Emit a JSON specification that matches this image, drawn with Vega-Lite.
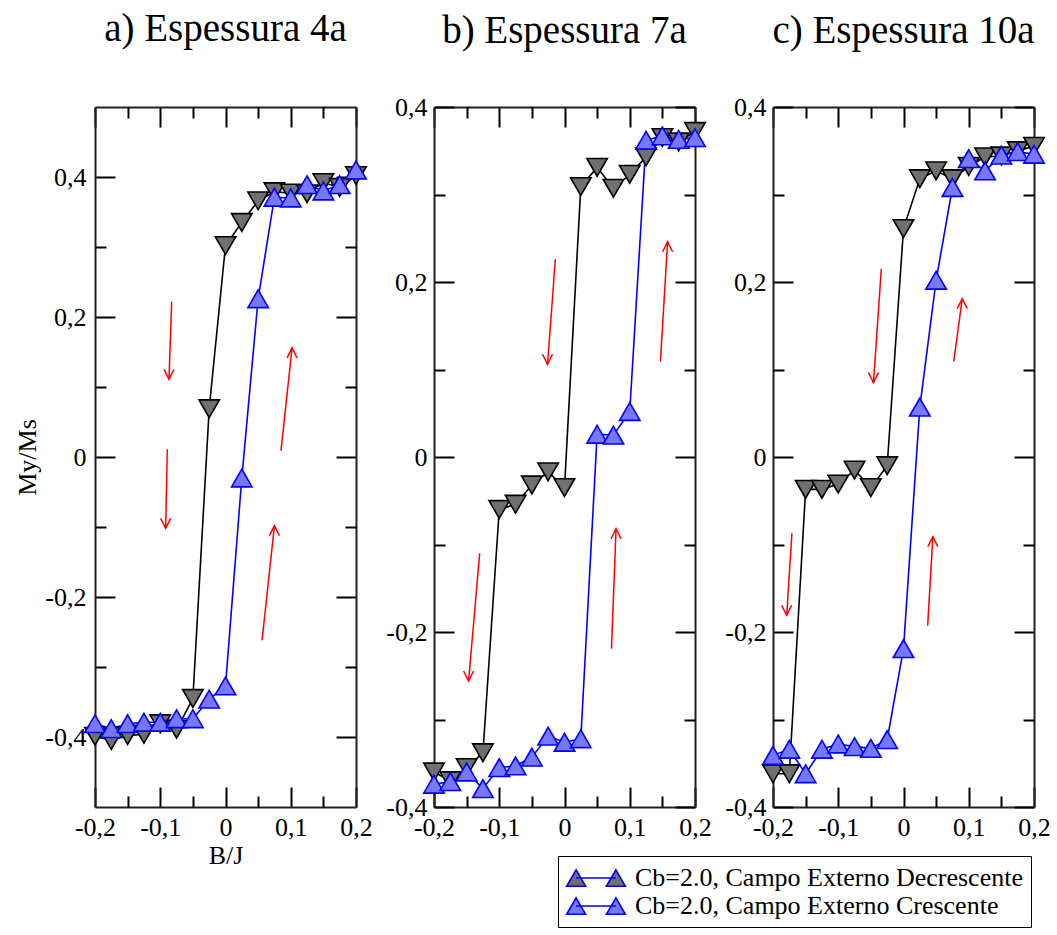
{
  "$schema": "https://vega.github.io/schema/vega-lite/v6.json",
  "padding": {"left": 14, "top": 10, "right": 5, "bottom": 5},
  "background": "white",
  "spacing": 78,
  "bounds": "flush",
  "resolve": {"scale": {"fill": "independent"}, "legend": {"fill": "independent"}},
  "config": {
    "font": "Liberation Serif",
    "view": {"stroke": null},
    "axis": {"labelFont": "Liberation Serif", "labelFontSize": 26, "titleFont": "Liberation Serif", "titleFontSize": 26, "titleFontWeight": "normal", "labelColor": "#000", "titleColor": "#000", "tickColor": "#000", "tickWidth": 2, "domainColor": "#222", "domainWidth": 2, "grid": false, "labelFlush": false, "labelOverlap": false, "labelBound": false},
    "title": {"font": "Liberation Serif", "fontSize": 39, "fontWeight": "normal", "color": "#000", "anchor": "middle", "offset": 57},
    "legend": {"labelFont": "Liberation Serif", "labelFontSize": 26, "labelColor": "#000", "labelLimit": 600}
  },
  "datasets": {
    "pts": [
      {"panel": "a", "serie": "Decrescente", "B": -0.2, "M": -0.399},
      {"panel": "a", "serie": "Decrescente", "B": -0.175, "M": -0.405},
      {"panel": "a", "serie": "Decrescente", "B": -0.15, "M": -0.398},
      {"panel": "a", "serie": "Decrescente", "B": -0.125, "M": -0.396},
      {"panel": "a", "serie": "Decrescente", "B": -0.1, "M": -0.381},
      {"panel": "a", "serie": "Decrescente", "B": -0.075, "M": -0.389},
      {"panel": "a", "serie": "Decrescente", "B": -0.05, "M": -0.345},
      {"panel": "a", "serie": "Decrescente", "B": -0.025, "M": 0.069},
      {"panel": "a", "serie": "Decrescente", "B": 0, "M": 0.302},
      {"panel": "a", "serie": "Decrescente", "B": 0.025, "M": 0.335},
      {"panel": "a", "serie": "Decrescente", "B": 0.05, "M": 0.366},
      {"panel": "a", "serie": "Decrescente", "B": 0.075, "M": 0.379},
      {"panel": "a", "serie": "Decrescente", "B": 0.1, "M": 0.377},
      {"panel": "a", "serie": "Decrescente", "B": 0.125, "M": 0.376},
      {"panel": "a", "serie": "Decrescente", "B": 0.15, "M": 0.392},
      {"panel": "a", "serie": "Decrescente", "B": 0.175, "M": 0.385},
      {"panel": "a", "serie": "Decrescente", "B": 0.2, "M": 0.402},
      {"panel": "a", "serie": "Crescente", "B": -0.2, "M": -0.381},
      {"panel": "a", "serie": "Crescente", "B": -0.175, "M": -0.388},
      {"panel": "a", "serie": "Crescente", "B": -0.15, "M": -0.381},
      {"panel": "a", "serie": "Crescente", "B": -0.125, "M": -0.379},
      {"panel": "a", "serie": "Crescente", "B": -0.1, "M": -0.379},
      {"panel": "a", "serie": "Crescente", "B": -0.075, "M": -0.374},
      {"panel": "a", "serie": "Crescente", "B": -0.05, "M": -0.374},
      {"panel": "a", "serie": "Crescente", "B": -0.025, "M": -0.346},
      {"panel": "a", "serie": "Crescente", "B": 0, "M": -0.327},
      {"panel": "a", "serie": "Crescente", "B": 0.025, "M": -0.03},
      {"panel": "a", "serie": "Crescente", "B": 0.05, "M": 0.226},
      {"panel": "a", "serie": "Crescente", "B": 0.075, "M": 0.371},
      {"panel": "a", "serie": "Crescente", "B": 0.1, "M": 0.37},
      {"panel": "a", "serie": "Crescente", "B": 0.125, "M": 0.389},
      {"panel": "a", "serie": "Crescente", "B": 0.15, "M": 0.38},
      {"panel": "a", "serie": "Crescente", "B": 0.175, "M": 0.389},
      {"panel": "a", "serie": "Crescente", "B": 0.2, "M": 0.41},
      {"panel": "b", "serie": "Decrescente", "B": -0.2, "M": -0.36},
      {"panel": "b", "serie": "Decrescente", "B": -0.175, "M": -0.37},
      {"panel": "b", "serie": "Decrescente", "B": -0.15, "M": -0.355},
      {"panel": "b", "serie": "Decrescente", "B": -0.125, "M": -0.338},
      {"panel": "b", "serie": "Decrescente", "B": -0.1, "M": -0.06},
      {"panel": "b", "serie": "Decrescente", "B": -0.075, "M": -0.054},
      {"panel": "b", "serie": "Decrescente", "B": -0.05, "M": -0.032},
      {"panel": "b", "serie": "Decrescente", "B": -0.025, "M": -0.017},
      {"panel": "b", "serie": "Decrescente", "B": 0, "M": -0.035},
      {"panel": "b", "serie": "Decrescente", "B": 0.025, "M": 0.309},
      {"panel": "b", "serie": "Decrescente", "B": 0.05, "M": 0.331},
      {"panel": "b", "serie": "Decrescente", "B": 0.075, "M": 0.307},
      {"panel": "b", "serie": "Decrescente", "B": 0.1, "M": 0.323},
      {"panel": "b", "serie": "Decrescente", "B": 0.125, "M": 0.343},
      {"panel": "b", "serie": "Decrescente", "B": 0.15, "M": 0.365},
      {"panel": "b", "serie": "Decrescente", "B": 0.175, "M": 0.36},
      {"panel": "b", "serie": "Decrescente", "B": 0.2, "M": 0.372},
      {"panel": "b", "serie": "Crescente", "B": -0.2, "M": -0.374},
      {"panel": "b", "serie": "Crescente", "B": -0.175, "M": -0.371},
      {"panel": "b", "serie": "Crescente", "B": -0.15, "M": -0.36},
      {"panel": "b", "serie": "Crescente", "B": -0.125, "M": -0.379},
      {"panel": "b", "serie": "Crescente", "B": -0.1, "M": -0.355},
      {"panel": "b", "serie": "Crescente", "B": -0.075, "M": -0.353},
      {"panel": "b", "serie": "Crescente", "B": -0.05, "M": -0.343},
      {"panel": "b", "serie": "Crescente", "B": -0.025, "M": -0.319},
      {"panel": "b", "serie": "Crescente", "B": 0, "M": -0.326},
      {"panel": "b", "serie": "Crescente", "B": 0.025, "M": -0.322},
      {"panel": "b", "serie": "Crescente", "B": 0.05, "M": 0.026},
      {"panel": "b", "serie": "Crescente", "B": 0.075, "M": 0.025},
      {"panel": "b", "serie": "Crescente", "B": 0.1, "M": 0.052},
      {"panel": "b", "serie": "Crescente", "B": 0.125, "M": 0.362},
      {"panel": "b", "serie": "Crescente", "B": 0.15, "M": 0.367},
      {"panel": "b", "serie": "Crescente", "B": 0.175, "M": 0.363},
      {"panel": "b", "serie": "Crescente", "B": 0.2, "M": 0.365},
      {"panel": "c", "serie": "Decrescente", "B": -0.2, "M": -0.362},
      {"panel": "c", "serie": "Decrescente", "B": -0.175, "M": -0.362},
      {"panel": "c", "serie": "Decrescente", "B": -0.15, "M": -0.037},
      {"panel": "c", "serie": "Decrescente", "B": -0.125, "M": -0.037},
      {"panel": "c", "serie": "Decrescente", "B": -0.1, "M": -0.031},
      {"panel": "c", "serie": "Decrescente", "B": -0.075, "M": -0.015},
      {"panel": "c", "serie": "Decrescente", "B": -0.05, "M": -0.035},
      {"panel": "c", "serie": "Decrescente", "B": -0.025, "M": -0.01},
      {"panel": "c", "serie": "Decrescente", "B": 0, "M": 0.261},
      {"panel": "c", "serie": "Decrescente", "B": 0.025, "M": 0.318},
      {"panel": "c", "serie": "Decrescente", "B": 0.05, "M": 0.327},
      {"panel": "c", "serie": "Decrescente", "B": 0.075, "M": 0.318},
      {"panel": "c", "serie": "Decrescente", "B": 0.1, "M": 0.332},
      {"panel": "c", "serie": "Decrescente", "B": 0.125, "M": 0.343},
      {"panel": "c", "serie": "Decrescente", "B": 0.15, "M": 0.344},
      {"panel": "c", "serie": "Decrescente", "B": 0.175, "M": 0.35},
      {"panel": "c", "serie": "Decrescente", "B": 0.2, "M": 0.355},
      {"panel": "c", "serie": "Crescente", "B": -0.2, "M": -0.341},
      {"panel": "c", "serie": "Crescente", "B": -0.175, "M": -0.334},
      {"panel": "c", "serie": "Crescente", "B": -0.15, "M": -0.362},
      {"panel": "c", "serie": "Crescente", "B": -0.125, "M": -0.334},
      {"panel": "c", "serie": "Crescente", "B": -0.1, "M": -0.328},
      {"panel": "c", "serie": "Crescente", "B": -0.075, "M": -0.331},
      {"panel": "c", "serie": "Crescente", "B": -0.05, "M": -0.333},
      {"panel": "c", "serie": "Crescente", "B": -0.025, "M": -0.323},
      {"panel": "c", "serie": "Crescente", "B": 0, "M": -0.219},
      {"panel": "c", "serie": "Crescente", "B": 0.025, "M": 0.057},
      {"panel": "c", "serie": "Crescente", "B": 0.05, "M": 0.202},
      {"panel": "c", "serie": "Crescente", "B": 0.075, "M": 0.308},
      {"panel": "c", "serie": "Crescente", "B": 0.1, "M": 0.341},
      {"panel": "c", "serie": "Crescente", "B": 0.125, "M": 0.327},
      {"panel": "c", "serie": "Crescente", "B": 0.15, "M": 0.345},
      {"panel": "c", "serie": "Crescente", "B": 0.175, "M": 0.349},
      {"panel": "c", "serie": "Crescente", "B": 0.2, "M": 0.346}
    ],
    "arrows": [
      {"panel": "a", "dir": "down", "B": -0.0825, "M": 0.222, "B2": -0.0866, "M2": 0.111},
      {"panel": "a", "dir": "down", "B": -0.0892, "M": 0.011, "B2": -0.0917, "M2": -0.102},
      {"panel": "a", "dir": "up", "B": 0.085, "M": 0.009, "B2": 0.102, "M2": 0.156},
      {"panel": "a", "dir": "up", "B": 0.056, "M": -0.262, "B2": 0.075, "M2": -0.098},
      {"panel": "b", "dir": "down", "B": -0.014, "M": 0.226, "B2": -0.026, "M2": 0.106},
      {"panel": "b", "dir": "up", "B": 0.147, "M": 0.109, "B2": 0.158, "M2": 0.246},
      {"panel": "b", "dir": "down", "B": -0.13, "M": -0.11, "B2": -0.147, "M2": -0.256},
      {"panel": "b", "dir": "up", "B": 0.072, "M": -0.219, "B2": 0.079, "M2": -0.082},
      {"panel": "c", "dir": "down", "B": -0.034, "M": 0.215, "B2": -0.046, "M2": 0.085},
      {"panel": "c", "dir": "up", "B": 0.077, "M": 0.109, "B2": 0.09, "M2": 0.181},
      {"panel": "c", "dir": "down", "B": -0.171, "M": -0.087, "B2": -0.179, "M2": -0.181},
      {"panel": "c", "dir": "up", "B": 0.037, "M": -0.193, "B2": 0.045, "M2": -0.091}
    ]
  },
  "hconcat": [
    {
      "title": {"text": "a) Espessura 4a", "offset": 57},
      "width": 261,
      "height": 700,
      "resolve": {"axis": {"x": "independent", "y": "independent"}},
      "layer": [
        {
          "data": {"name": "pts"},
          "transform": [{"filter": "datum.panel == 'a'"}],
          "mark": {"type": "line", "strokeWidth": 1.6},
          "encoding": {
            "x": {"field": "B", "type": "quantitative", "scale": {"domain": [-0.2, 0.2], "nice": false, "zero": false},
              "axis": {"orient": "bottom", "values": [-0.2, -0.1, 0, 0.1, 0.2], "tickSize": -20, "labelPadding": 27, "labelExpr": "datum.value == 0 ? '0' : (datum.value < 0 ? '-' : '') + '0,' + round(abs(datum.value) * 10)", "title": "B/J", "titlePadding": 2}},
            "y": {"field": "M", "type": "quantitative", "scale": {"domain": [-0.5, 0.5], "nice": false, "zero": false},
              "axis": {"orient": "left", "values": [-0.4, -0.2, 0, 0.2, 0.4], "tickSize": -20, "labelPadding": 29, "labelExpr": "datum.value == 0 ? '0' : (datum.value < 0 ? '-' : '') + '0,' + round(abs(datum.value) * 10)", "title": "My/Ms", "titlePadding": 4}},
            "color": {"field": "serie", "type": "nominal", "scale": {"domain": ["Decrescente", "Crescente"], "range": ["#000000", "#0000ff"]}, "legend": null}
          }
        },
        {
          "data": {"name": "pts"},
          "transform": [{"filter": "datum.panel == 'a'"}],
          "mark": {"type": "point", "filled": true, "opacity": 1, "size": 420, "strokeWidth": 1.6},
          "encoding": {
            "x": {"field": "B", "type": "quantitative", "axis": {"orient": "bottom", "values": [-0.15, -0.05, 0.05, 0.15], "tickSize": -11, "labels": false, "domain": false, "title": null}},
            "y": {"field": "M", "type": "quantitative", "axis": {"orient": "left", "values": [-0.3, -0.1, 0.1, 0.3], "tickSize": -11, "labels": false, "domain": false, "title": null}},
            "shape": {"condition": {"test": "datum.serie == 'Decrescente'", "value": "triangle-down"}, "value": "triangle-up"},
            "stroke": {"condition": {"test": "datum.serie == 'Decrescente'", "value": "#000000"}, "value": "#0000ff"},
            "fill": {"field": "serie", "type": "nominal", "scale": {"domain": ["Decrescente", "Crescente"], "range": ["#707070", "#7878ff"]}, "legend": null}
          }
        },
        {
          "data": {"name": "arrows"},
          "transform": [{"filter": "datum.panel == 'a'"}],
          "mark": {"type": "rule", "color": "#ff0000", "strokeWidth": 1.5},
          "encoding": {
            "x": {"field": "B", "type": "quantitative", "axis": {"orient": "top", "values": [-0.2, -0.1, 0, 0.1, 0.2], "tickSize": -20, "labels": false, "title": null}},
            "y": {"field": "M", "type": "quantitative", "axis": {"orient": "right", "values": [-0.4, -0.2, 0, 0.2, 0.4], "tickSize": -20, "labels": false, "title": null}},
            "x2": {"field": "B2"},
            "y2": {"field": "M2"}
          }
        },
        {
          "data": {"name": "arrows"},
          "transform": [{"filter": "datum.panel == 'a' && datum.dir == 'up'"}],
          "mark": {"type": "point", "shape": "M-1,2L0,0L1,2", "size": 100, "filled": false, "opacity": 1, "color": "#ff0000", "strokeWidth": 1.5},
          "encoding": {
            "x": {"field": "B2", "type": "quantitative", "axis": {"orient": "top", "values": [-0.15, -0.05, 0.05, 0.15], "tickSize": -11, "labels": false, "domain": false, "title": null}},
            "y": {"field": "M2", "type": "quantitative", "axis": {"orient": "right", "values": [-0.3, -0.1, 0.1, 0.3], "tickSize": -11, "labels": false, "domain": false, "title": null}}
          }
        },
        {
          "data": {"name": "arrows"},
          "transform": [{"filter": "datum.panel == 'a' && datum.dir == 'down'"}],
          "mark": {"type": "point", "shape": "M-1,-2L0,0L1,-2", "size": 100, "filled": false, "opacity": 1, "color": "#ff0000", "strokeWidth": 1.5},
          "encoding": {
            "x": {"field": "B2", "type": "quantitative", "axis": null},
            "y": {"field": "M2", "type": "quantitative", "axis": null}
          }
        }
      ]
    },
    {
      "title": {"text": "b) Espessura 7a", "offset": 43},
      "width": 261,
      "height": 700,
      "resolve": {"axis": {"x": "independent", "y": "independent"}},
      "layer": [
        {
          "data": {"name": "pts"},
          "transform": [{"filter": "datum.panel == 'b'"}],
          "mark": {"type": "line", "strokeWidth": 1.6},
          "encoding": {
            "x": {"field": "B", "type": "quantitative", "scale": {"domain": [-0.2, 0.2], "nice": false, "zero": false},
              "axis": {"orient": "bottom", "values": [-0.2, -0.1, 0, 0.1, 0.2], "tickSize": -20, "labelPadding": 27, "labelExpr": "datum.value == 0 ? '0' : (datum.value < 0 ? '-' : '') + '0,' + round(abs(datum.value) * 10)", "title": null}},
            "y": {"field": "M", "type": "quantitative", "scale": {"domain": [-0.4, 0.4], "nice": false, "zero": false},
              "axis": {"orient": "left", "values": [-0.4, -0.2, 0, 0.2, 0.4], "tickSize": -20, "labelPadding": 27, "labelExpr": "datum.value == 0 ? '0' : (datum.value < 0 ? '-' : '') + '0,' + round(abs(datum.value) * 10)", "title": null}},
            "color": {"field": "serie", "type": "nominal", "scale": {"domain": ["Decrescente", "Crescente"], "range": ["#000000", "#0000ff"]}, "legend": null}
          }
        },
        {
          "data": {"name": "pts"},
          "transform": [{"filter": "datum.panel == 'b'"}],
          "mark": {"type": "point", "filled": true, "opacity": 1, "size": 420, "strokeWidth": 1.6},
          "encoding": {
            "x": {"field": "B", "type": "quantitative", "axis": {"orient": "bottom", "values": [-0.15, -0.05, 0.05, 0.15], "tickSize": -11, "labels": false, "domain": false, "title": null}},
            "y": {"field": "M", "type": "quantitative", "axis": {"orient": "left", "values": [-0.3, -0.1, 0.1, 0.3], "tickSize": -11, "labels": false, "domain": false, "title": null}},
            "shape": {"condition": {"test": "datum.serie == 'Decrescente'", "value": "triangle-down"}, "value": "triangle-up"},
            "stroke": {"condition": {"test": "datum.serie == 'Decrescente'", "value": "#000000"}, "value": "#0000ff"},
            "fill": {"field": "serie", "type": "nominal", "scale": {"domain": ["Decrescente", "Crescente"], "range": ["#707070", "#7878ff"]}, "legend": null}
          }
        },
        {
          "data": {"name": "arrows"},
          "transform": [{"filter": "datum.panel == 'b'"}],
          "mark": {"type": "rule", "color": "#ff0000", "strokeWidth": 1.5},
          "encoding": {
            "x": {"field": "B", "type": "quantitative", "axis": {"orient": "top", "values": [-0.2, -0.1, 0, 0.1, 0.2], "tickSize": -20, "labels": false, "title": null}},
            "y": {"field": "M", "type": "quantitative", "axis": {"orient": "right", "values": [-0.4, -0.2, 0, 0.2, 0.4], "tickSize": -20, "labels": false, "title": null}},
            "x2": {"field": "B2"},
            "y2": {"field": "M2"}
          }
        },
        {
          "data": {"name": "arrows"},
          "transform": [{"filter": "datum.panel == 'b' && datum.dir == 'up'"}],
          "mark": {"type": "point", "shape": "M-1,2L0,0L1,2", "size": 100, "filled": false, "opacity": 1, "color": "#ff0000", "strokeWidth": 1.5},
          "encoding": {
            "x": {"field": "B2", "type": "quantitative", "axis": {"orient": "top", "values": [-0.15, -0.05, 0.05, 0.15], "tickSize": -11, "labels": false, "domain": false, "title": null}},
            "y": {"field": "M2", "type": "quantitative", "axis": {"orient": "right", "values": [-0.3, -0.1, 0.1, 0.3], "tickSize": -11, "labels": false, "domain": false, "title": null}}
          }
        },
        {
          "data": {"name": "arrows"},
          "transform": [{"filter": "datum.panel == 'b' && datum.dir == 'down'"}],
          "mark": {"type": "point", "shape": "M-1,-2L0,0L1,-2", "size": 100, "filled": false, "opacity": 1, "color": "#ff0000", "strokeWidth": 1.5},
          "encoding": {
            "x": {"field": "B2", "type": "quantitative", "axis": null},
            "y": {"field": "M2", "type": "quantitative", "axis": null}
          }
        }
      ]
    },
    {
      "title": {"text": "c) Espessura 10a", "offset": 43},
      "width": 261,
      "height": 700,
      "resolve": {"axis": {"x": "independent", "y": "independent"}},
      "layer": [
        {
          "data": {"name": "pts"},
          "transform": [{"filter": "datum.panel == 'c'"}],
          "mark": {"type": "line", "strokeWidth": 1.6},
          "encoding": {
            "x": {"field": "B", "type": "quantitative", "scale": {"domain": [-0.2, 0.2], "nice": false, "zero": false},
              "axis": {"orient": "bottom", "values": [-0.2, -0.1, 0, 0.1, 0.2], "tickSize": -20, "labelPadding": 27, "labelExpr": "datum.value == 0 ? '0' : (datum.value < 0 ? '-' : '') + '0,' + round(abs(datum.value) * 10)", "title": null}},
            "y": {"field": "M", "type": "quantitative", "scale": {"domain": [-0.4, 0.4], "nice": false, "zero": false},
              "axis": {"orient": "left", "values": [-0.4, -0.2, 0, 0.2, 0.4], "tickSize": -20, "labelPadding": 27, "labelExpr": "datum.value == 0 ? '0' : (datum.value < 0 ? '-' : '') + '0,' + round(abs(datum.value) * 10)", "title": null}},
            "color": {"field": "serie", "type": "nominal", "scale": {"domain": ["Decrescente", "Crescente"], "range": ["#000000", "#0000ff"]}, "legend": null}
          }
        },
        {
          "data": {"name": "pts"},
          "transform": [{"filter": "datum.panel == 'c'"}],
          "mark": {"type": "point", "filled": true, "opacity": 1, "size": 420, "strokeWidth": 1.6},
          "encoding": {
            "x": {"field": "B", "type": "quantitative", "axis": {"orient": "bottom", "values": [-0.15, -0.05, 0.05, 0.15], "tickSize": -11, "labels": false, "domain": false, "title": null}},
            "y": {"field": "M", "type": "quantitative", "axis": {"orient": "left", "values": [-0.3, -0.1, 0.1, 0.3], "tickSize": -11, "labels": false, "domain": false, "title": null}},
            "shape": {"condition": {"test": "datum.serie == 'Decrescente'", "value": "triangle-down"}, "value": "triangle-up"},
            "stroke": {"condition": {"test": "datum.serie == 'Decrescente'", "value": "#000000"}, "value": "#0000ff"},
            "fill": {"field": "serie", "type": "nominal", "scale": {"domain": ["Decrescente", "Crescente"], "range": ["#707070", "#7878ff"]},
              "legend": {"title": null, "orient": "none", "legendX": -215, "legendY": 749, "strokeColor": "#000", "padding": 8, "rowPadding": 1, "symbolSize": 676, "symbolStrokeWidth": 1.6, "labelOffset": 41, "symbolType": "M-0.3,0L2.76,0M-1.03,0.635L0.43,0.635L-0.3,-0.635ZM2.03,0.635L3.49,0.635L2.76,-0.635Z", "labelExpr": "'Cb=2.0, Campo Externo ' + datum.label"}}
          }
        },
        {
          "data": {"name": "arrows"},
          "transform": [{"filter": "datum.panel == 'c'"}],
          "mark": {"type": "rule", "color": "#ff0000", "strokeWidth": 1.5},
          "encoding": {
            "x": {"field": "B", "type": "quantitative", "axis": {"orient": "top", "values": [-0.2, -0.1, 0, 0.1, 0.2], "tickSize": -20, "labels": false, "title": null}},
            "y": {"field": "M", "type": "quantitative", "axis": {"orient": "right", "values": [-0.4, -0.2, 0, 0.2, 0.4], "tickSize": -20, "labels": false, "title": null}},
            "x2": {"field": "B2"},
            "y2": {"field": "M2"}
          }
        },
        {
          "data": {"name": "arrows"},
          "transform": [{"filter": "datum.panel == 'c' && datum.dir == 'up'"}],
          "mark": {"type": "point", "shape": "M-1,2L0,0L1,2", "size": 100, "filled": false, "opacity": 1, "color": "#ff0000", "strokeWidth": 1.5},
          "encoding": {
            "x": {"field": "B2", "type": "quantitative", "axis": {"orient": "top", "values": [-0.15, -0.05, 0.05, 0.15], "tickSize": -11, "labels": false, "domain": false, "title": null}},
            "y": {"field": "M2", "type": "quantitative", "axis": {"orient": "right", "values": [-0.3, -0.1, 0.1, 0.3], "tickSize": -11, "labels": false, "domain": false, "title": null}}
          }
        },
        {
          "data": {"name": "arrows"},
          "transform": [{"filter": "datum.panel == 'c' && datum.dir == 'down'"}],
          "mark": {"type": "point", "shape": "M-1,-2L0,0L1,-2", "size": 100, "filled": false, "opacity": 1, "color": "#ff0000", "strokeWidth": 1.5},
          "encoding": {
            "x": {"field": "B2", "type": "quantitative", "axis": null},
            "y": {"field": "M2", "type": "quantitative", "axis": null}
          }
        }
      ]
    }
  ]
}
